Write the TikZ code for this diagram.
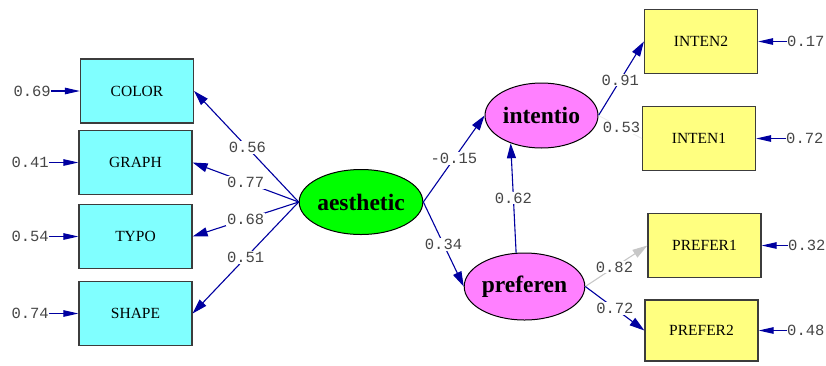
\documentclass[tikz,border=0pt]{standalone}
\usepackage{fontspec}
\setmainfont{Liberation Serif}
\newfontfamily\labfont{Liberation Mono}
\usetikzlibrary{arrows.meta,shapes.geometric}
\definecolor{obscyan}{RGB}{128,255,255}
\definecolor{obsyellow}{RGB}{255,255,128}
\definecolor{latgreen}{RGB}{0,255,0}
\definecolor{latpink}{RGB}{255,128,255}
\definecolor{pathblue}{RGB}{0,0,160}
\definecolor{boxedge}{RGB}{60,60,60}
\definecolor{labgray}{RGB}{70,70,70}
\tikzset{
  obsbox/.style={draw=boxedge,line width=1.2pt,minimum width=113pt,minimum height=64pt,inner sep=0pt,font=\fontsize{15.5}{15.5}\selectfont},
  cyanbox/.style={obsbox,fill=obscyan},
  yellowbox/.style={obsbox,fill=obsyellow},
  latent/.style={ellipse,draw=black,line width=1pt,minimum width=114pt,minimum height=65pt,inner sep=0pt,font=\fontsize{23.5}{23.5}\selectfont\bfseries},
  path/.style={draw=pathblue,line width=1.1pt,-{Triangle[length=15pt,width=9pt]}},
  fadepath/.style={draw=black!22,line width=1.1pt,-{Triangle[length=15pt,width=9pt]}},
  ghostpath/.style={draw=black!8,line width=0.8pt},
  errpath/.style={draw=pathblue,line width=1.1pt,-{Triangle[length=15pt,width=6.5pt]}},
  coef/.style={fill=white,inner sep=1pt,text=labgray,font=\labfont\fontsize{15.5}{15.5}\selectfont},
  errlab/.style={inner sep=0pt,text=labgray,font=\labfont\fontsize{15.5}{15.5}\selectfont}
}
\begin{document}
\begin{tikzpicture}[x=1pt,y=-1pt]
\useasboundingbox (0,0) rectangle (826,365);
% observed indicators, left
\node[cyanbox] (color) at (137,91) {COLOR};
\node[cyanbox] (graph) at (135.5,162.5) {GRAPH};
\node[cyanbox] (typo) at (135.5,236.5) {TYPO};
\node[cyanbox] (shape) at (135.5,313.5) {SHAPE};
% observed indicators, right
\node[yellowbox] (inten2) at (701,41.5) {INTEN2};
\node[yellowbox] (inten1) at (699,138.5) {INTEN1};
\node[yellowbox] (prefer1) at (704.5,245.5) {PREFER1};
\node[yellowbox,minimum height=61pt] (prefer2) at (701.5,330.5) {PREFER2};
% latent variables
\node[latent,fill=latgreen] (aes) at (361,202) {aesthetic};
\node[latent,fill=latpink,minimum width=113pt] (int) at (541.5,115.5) {intentio};
\node[latent,fill=latpink,minimum width=113pt,minimum height=67pt] (pre) at (524.5,286.5) {preferen};
% loadings of aesthetic
\draw[path] (aes.west) -- node[coef,pos=0.49] {0.56} (color.east);
\draw[path] (aes.west) -- node[coef,pos=0.5] {0.77} (graph.east);
\draw[path] (aes.west) -- node[coef,pos=0.5] {0.68} (typo.east);
\draw[path] (aes.west) -- node[coef,pos=0.5] {0.51} (shape.east);
% structural paths
\draw[path] (aes.east) -- node[coef,pos=0.5] {-0.15} (int.west);
\draw[path] (aes.east) -- node[coef,pos=0.5] {0.34} (pre.west);
\draw[path] (pre.104) -- node[coef,pos=0.5] {0.62} (int.222);
% loadings of intentio and preferen
\draw[path] (int.east) -- node[coef,pos=0.48] {0.91} (inten2.west);
\draw[ghostpath] (int.east) -- node[coef,pos=0.53] {0.53} (inten1.west);
\draw[fadepath] (pre.east) -- node[coef,pos=0.47] {0.82} (prefer1.west);
\draw[path] (pre.east) -- node[coef,pos=0.5] {0.72} (prefer2.west);
% error terms, left
\node[errlab,anchor=east] (ecolor) at (51,91) {0.69};
\node[errlab,anchor=east] (egraph) at (49,162.5) {0.41};
\node[errlab,anchor=east] (etypo) at (49,236.5) {0.54};
\node[errlab,anchor=east] (eshape) at (49,313.5) {0.74};
\draw[errpath] (ecolor.east) -- (color.west);
\draw[errpath] (egraph.east) -- (graph.west);
\draw[errpath] (etypo.east) -- (typo.west);
\draw[errpath] (eshape.east) -- (shape.west);
% error terms, right
\node[errlab,anchor=west] (einten2) at (787,41.5) {0.17};
\node[errlab,anchor=west] (einten1) at (786,138.5) {0.72};
\node[errlab,anchor=west] (eprefer1) at (788,245.5) {0.32};
\node[errlab,anchor=west] (eprefer2) at (787,330.5) {0.48};
\draw[errpath] (einten2.west) -- (inten2.east);
\draw[errpath] (einten1.west) -- (inten1.east);
\draw[errpath] (eprefer1.west) -- (prefer1.east);
\draw[errpath] (eprefer2.west) -- (prefer2.east);
\end{tikzpicture}
\end{document}
